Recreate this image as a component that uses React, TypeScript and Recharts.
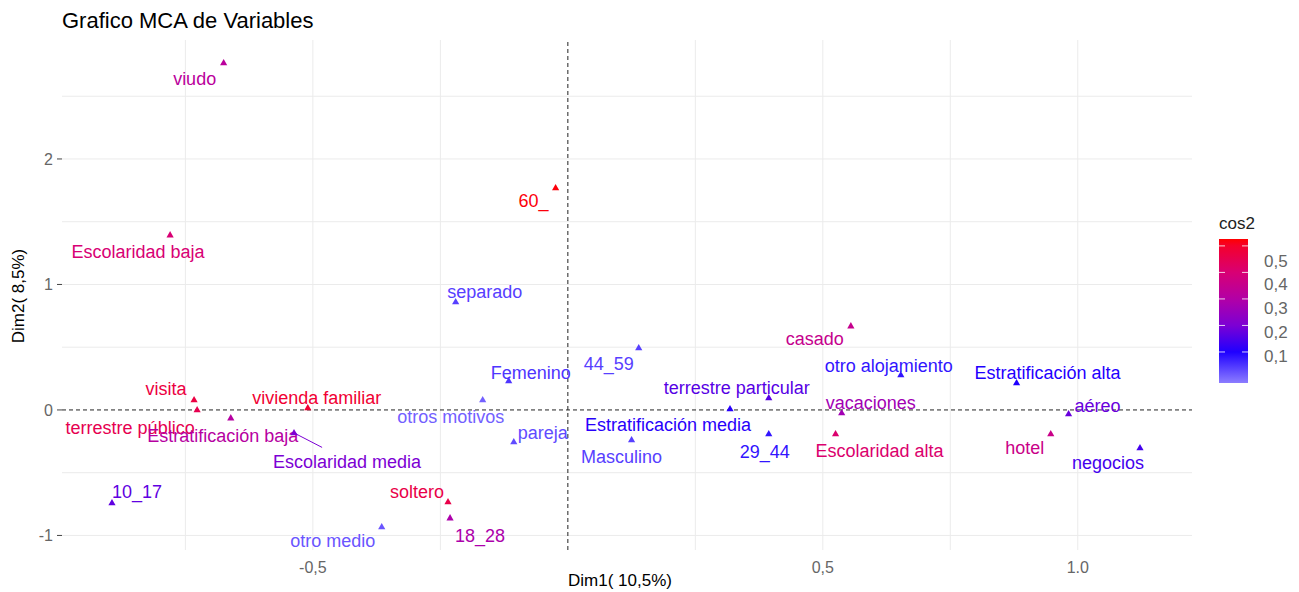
import React from 'react';
import { ScatterChart, Scatter, XAxis, YAxis, ReferenceLine } from 'recharts';

// MCA variable categories (coordinates on Dim1 / Dim2 and quality cos2)
const categories = [
  'viudo', 'Escolaridad baja', '60_', 'separado', 'Femenino', '44_59', 'casado',
  'otro alojamiento', 'Estratificación alta', 'terrestre particular', 'vacaciones', 'aéreo',
  'Estratificación media', 'Masculino', '29_44', 'Escolaridad alta', 'hotel', 'negocios',
  'visita', 'terrestre público', 'Estratificación baja', 'Escolaridad media', 'vivienda familiar',
  'otros motivos', 'pareja', '10_17', 'soltero', '18_28', 'otro medio',
];
const dim1 = [
  -0.675, -0.78, -0.024, -0.22, -0.116, 0.139, 0.555,
  0.653, 0.88, 0.394, 0.537, 0.982,
  0.318, 0.125, 0.394, 0.525, 0.947, 1.122,
  -0.733, -0.727, -0.661, -0.537, -0.51,
  -0.167, -0.106, -0.894, -0.235, -0.231, -0.365,
];
const dim2 = [
  2.765, 1.394, 1.769, 0.861, 0.231, 0.494, 0.669,
  0.279, 0.215, 0.096, -0.024, -0.032,
  0.008, -0.239, -0.191, -0.191, -0.191, -0.303,
  0.08, 0.0, -0.064, -0.183, 0.016,
  0.08, -0.255, -0.741, -0.733, -0.861, -0.932,
];
const cos2 = [
  0.32, 0.4, 0.52, 0.04, 0.05, 0.04, 0.35,
  0.08, 0.1, 0.16, 0.27, 0.18,
  0.11, 0.04, 0.08, 0.41, 0.36, 0.14,
  0.47, 0.45, 0.31, 0.2, 0.49,
  0.01, 0.03, 0.17, 0.46, 0.29, 0.02,
];

const xTicks = [-0.5, 0.5, 1.0];
const xTickLabels = ['-0,5', '0,5', '1.0'];
const yTicks = [-1, 0, 1, 2];
const xGrid = [-0.75, -0.5, -0.25, 0.25, 0.5, 0.75, 1.0];
const yGrid = [-1, -0.5, 0.5, 1, 1.5, 2, 2.5];
const legendTicks = [0.1, 0.2, 0.3, 0.4, 0.5];
const legendTickLabels = ['0,1', '0,2', '0,3', '0,4', '0,5'];

// label nudges (ggrepel placement), pixels relative to the point
const labelNudge: [number, number][] = [
  [-29, 16], [-32, 17], [-22, 13], [29, -10], [22, -8], [-30, 16], [-36, 13],
  [-12, -9], [31, -10], [-32, -10], [29, -10], [29, -8],
  [-62, 16], [-10, 17], [-4, 18], [44, 17], [-26, 14], [-32, 15],
  [-28, -11], [-67, 18], [-8, 18], [53, 29], [9, -10],
  [-32, 17], [29, -9], [25, -11], [-31, -10], [30, 18], [-49, 14],
];
const withSegment = ['Escolaridad media'];

const colorStops: [number, string][] = [
  [-0.017, '#8C7DFF'], [0.1, '#1F00FF'], [0.2, '#7C00D4'], [0.3, '#B200A6'],
  [0.4, '#D80074'], [0.5, '#F4002C'], [0.526, '#FF0000'],
];
const cosMin = colorStops[0][0];
const cosMax = colorStops[colorStops.length - 1][0];

function hex(c: string) {
  return [1, 3, 5].map((i) => parseInt(c.slice(i, i + 2), 16));
}
function cosColor(v: number) {
  if (v <= colorStops[0][0]) return colorStops[0][1];
  for (let i = 1; i < colorStops.length; i++) {
    const [v1, c1] = colorStops[i];
    if (v <= v1) {
      const [v0, c0] = colorStops[i - 1];
      const t = (v - v0) / (v1 - v0);
      const a = hex(c0);
      const b = hex(c1);
      const m = a.map((x, k) => Math.round(x + (b[k] - x) * t));
      return `rgb(${m[0]},${m[1]},${m[2]})`;
    }
  }
  return colorStops[colorStops.length - 1][1];
}

const data = categories.map((name, i) => ({
  name, x: dim1[i], y: dim2[i], cos2: cos2[i], nudge: labelNudge[i],
}));

const FONT = '"Liberation Sans", Arial, sans-serif';

const VarMarker = (props: any) => {
  const { cx, cy, payload } = props;
  if (cx == null || cy == null) return null;
  const col = cosColor(payload.cos2);
  const [dx, dy] = payload.nudge;
  return (
    <g>
      <path d={`M${cx},${cy - 4} L${cx + 3.6},${cy + 2.4} L${cx - 3.6},${cy + 2.4} Z`} fill={col} />
      {withSegment.includes(payload.name) ? (
        <line x1={cx} y1={cy} x2={cx + dx * 0.53} y2={cy + dy * 0.5} stroke={col} strokeWidth={1} />
      ) : null}
      <text x={cx + dx} y={cy + dy} textAnchor="middle" dominantBaseline="central"
        fill={col} fontSize={18} fontFamily={FONT}>
        {payload.name}
      </text>
    </g>
  );
};

// colour bar geometry
const barX = 1219;
const barW = 29;
const barTop = 239;
const barBottom = 383;
const barY = (v: number) => barBottom - ((v - cosMin) / (cosMax - cosMin)) * (barBottom - barTop);
const barLabelY = (v: number) => 356 - (v - 0.1) * 237.5;

export default function App() {
  return (
    <div style={{ position: 'absolute', left: 0, top: 0, width: 1299, height: 592, fontFamily: FONT, background: '#fff' }}>
      <ScatterChart width={1299} height={592} margin={{ top: 40, right: 107, bottom: 0, left: 0 }}>
        {yGrid.map((v) => (
          <ReferenceLine key={`gy${v}`} y={v} stroke="#ebebeb" strokeWidth={1} />
        ))}
        {xGrid.map((v) => (
          <ReferenceLine key={`gx${v}`} x={v} stroke="#ebebeb" strokeWidth={1} />
        ))}
        <ReferenceLine y={0} stroke="#222" strokeDasharray="4 3" strokeWidth={1} />
        <ReferenceLine x={0} stroke="#222" strokeDasharray="4 3" strokeWidth={1} />
        <XAxis
          type="number" dataKey="x" domain={[-0.992, 1.224]} ticks={xTicks}
          tickFormatter={(v: number) => xTickLabels[xTicks.indexOf(v)] ?? ''}
          axisLine={false} tickLine={false} height={42} tickMargin={6}
          tick={{ fill: '#666', fontSize: 16 }} allowDataOverflow
        />
        <YAxis
          type="number" dataKey="y" domain={[-1.116, 2.948]} ticks={yTicks}
          axisLine={false} tickLine={{ stroke: '#444' }} tickSize={5} tickMargin={4} width={62}
          tick={{ fill: '#666', fontSize: 16 }} allowDataOverflow
        />
        <Scatter data={data} isAnimationActive={false} shape={VarMarker} />
      </ScatterChart>
      <svg width={1299} height={592} style={{ position: 'absolute', left: 0, top: 0, pointerEvents: 'none' }}>
        <defs>
          <linearGradient id="cosbar" x1="0" y1="1" x2="0" y2="0">
            {colorStops.map(([v, c]) => (
              <stop key={v} offset={(v - cosMin) / (cosMax - cosMin)} stopColor={c} />
            ))}
          </linearGradient>
        </defs>
        <text x={62} y={28} fontSize={22} fill="#000" fontFamily={FONT}>Grafico MCA de Variables</text>
        <text x={620} y={586} fontSize={17} fill="#000" textAnchor="middle" fontFamily={FONT}>Dim1( 10,5%)</text>
        <text x={0} y={0} fontSize={17} fill="#000" textAnchor="middle" fontFamily={FONT}
          transform="translate(24,296) rotate(-90)">Dim2( 8,5%)</text>
        <text x={barX} y={229} fontSize={17} fill="#222" fontFamily={FONT}>cos2</text>
        <rect x={barX} y={barTop} width={barW} height={barBottom - barTop} fill="url(#cosbar)" />
        {legendTicks.map((v, i) => (
          <g key={v}>
            <line x1={barX} x2={barX + 6} y1={barY(v)} y2={barY(v)} stroke="#fff" strokeWidth={1} opacity={0.8} />
            <line x1={barX + barW - 6} x2={barX + barW} y1={barY(v)} y2={barY(v)} stroke="#fff" strokeWidth={1} opacity={0.8} />
            <text x={1264} y={barLabelY(v)} dominantBaseline="central" fontSize={17} fill="#666" fontFamily={FONT}>
              {legendTickLabels[i]}
            </text>
          </g>
        ))}
      </svg>
    </div>
  );
}
